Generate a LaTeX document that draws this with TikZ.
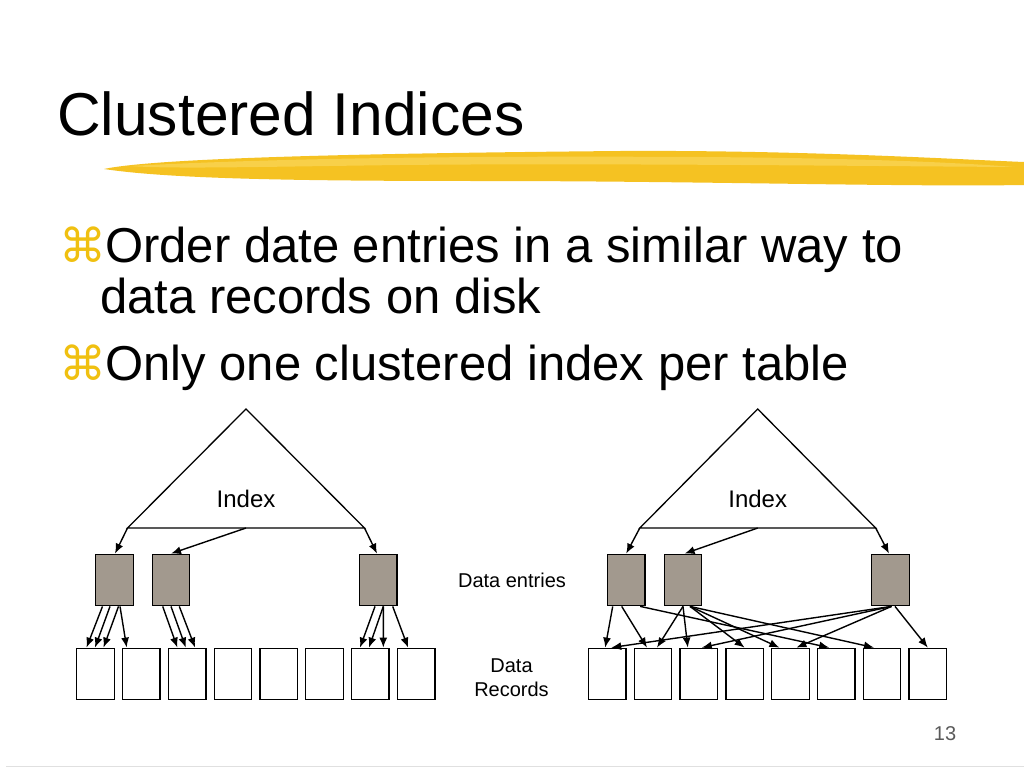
\documentclass[tikz,border=0pt]{standalone}
\usepackage{fontspec}
\setmainfont{Liberation Sans}
\newfontfamily\bulletfont{DejaVu Sans}
\usetikzlibrary{arrows.meta}
\definecolor{bulletyellow}{RGB}{240,192,16}
\definecolor{brushyellow}{RGB}{245,194,34}
\definecolor{brushlight}{RGB}{250,215,90}
\definecolor{entrygrey}{RGB}{162,153,142}
\definecolor{pagegrey}{RGB}{90,90,90}
\tikzset{
  arr/.style={line width=1.4pt, -{Latex[length=10pt,width=8pt]}},
  tri/.style={line width=1.3pt, line join=miter},
  entry/.style={draw, line width=1.3pt, fill=entrygrey, minimum width=37.5pt, minimum height=51.5pt, inner sep=0pt},
  rec/.style={draw, line width=1.3pt, fill=white, minimum width=37.5pt, minimum height=51.5pt, inner sep=0pt},
  lbl/.style={font=\fontsize{20}{24}\selectfont, align=center, inner sep=0pt},
  bul/.style={font=\fontsize{49}{58}\selectfont, anchor=base west, inner sep=0pt},
  sym/.style={font=\bulletfont\fontsize{47}{50}\selectfont, text=bulletyellow, anchor=base west, inner sep=0pt},
}
\newcommand{\lnk}[4]{\draw[arr] ([xshift=#2pt]#1.south) -- ([xshift=#4pt]#3.north);}

\begin{document}
\begin{tikzpicture}[x=1pt, y=-1pt]

\useasboundingbox[fill=white] (0,0) rectangle (1024,768);

% title and brush stroke
\node[anchor=base west, inner sep=0pt, font=\fontsize{60.5}{72}\selectfont] (title) at (57,135) {Clustered Indices};
\fill[brushyellow] (104,169) .. controls (160,157) and (400,153) .. (620,151)
  .. controls (800,150) and (950,159) .. (1024,162) -- (1024,185)
  .. controls (900,187) and (700,181) .. (480,181)
  .. controls (300,181) and (170,179) .. (104,169) -- cycle;
\fill[brushlight, opacity=0.7] (130,166) .. controls (300,157) and (500,156) .. (700,157)
  .. controls (850,158) and (950,162) .. (1015,167)
  .. controls (850,166) and (600,163) .. (400,165)
  .. controls (250,167) and (170,169) .. (130,166) -- cycle;

% bullets
\node[sym] (b1) at (59,262) {⌘};
\node[bul] (t1) at (105,262) {Order date entries in a similar way to};
\node[bul] (t2) at (100,313) {data records on disk};
\node[sym] (b2) at (59,380) {⌘};
\node[bul] (t3) at (105,380) {Only one clustered index per table};

% clustered tree
\coordinate (ltop) at (246,409);
\coordinate (lbl) at (127.5,528);
\coordinate (lbr) at (364.5,528);
\coordinate (lbm) at (246,528);
\draw[tri] (ltop) -- (lbr) -- (lbl) -- cycle;
\node[lbl, font=\fontsize{24}{28}\selectfont] (lidx) at (246,499) {Index};

\node[entry] (e1) at (114.5,580) {};
\node[entry] (e2) at (171,580) {};
\node[entry] (e3) at (378.3,580) {};
\foreach \i in {1,...,8} \node[rec] (l\i) at ({95.5+45.8*(\i-1)},674) {};

\draw[arr] (lbl) -- ([xshift=0.5pt]e1.north);
\draw[arr] (lbm) -- (e2.north);
\draw[arr] (lbr) -- ([xshift=-1.3pt]e3.north);

\lnk{e1}{-12}{l1}{-9}
\lnk{e1}{-4.5}{l1}{-0.5}
\lnk{e1}{4}{l1}{8}
\lnk{e1}{5.5}{l2}{-14.6}
\lnk{e2}{-8.3}{l3}{-9.7}
\lnk{e2}{0}{l3}{-1.3}
\lnk{e2}{8.3}{l3}{8}
\lnk{e3}{-3.3}{l7}{-10.3}
\lnk{e3}{5}{l7}{-1.3}
\lnk{e3}{5}{l7}{13}
\lnk{e3}{14.4}{l8}{-8}

% unclustered tree
\coordinate (rtop) at (757.7,409);
\coordinate (rbl) at (639.8,528);
\coordinate (rbr) at (875.7,528);
\coordinate (rbm) at (757.7,528);
\draw[tri] (rtop) -- (rbr) -- (rbl) -- cycle;
\node[lbl, font=\fontsize{24}{28}\selectfont] (ridx) at (757.7,499) {Index};

\node[entry] (e4) at (626.2,580) {};
\node[entry] (e5) at (683,580) {};
\node[entry] (e6) at (890.5,580) {};
\foreach \i in {1,...,8} \node[rec] (r\i) at ({607.2+45.8*(\i-1)},674) {};

\draw[arr] (rbl) -- (e4.north);
\draw[arr] (rbm) -- ([xshift=1.6pt]e5.north);
\draw[arr] (rbr) -- ([xshift=-1.5pt]e6.north);

\lnk{e4}{-13.5}{r1}{-2}
\lnk{e4}{-4.5}{r2}{-6}
\lnk{e4}{14}{r6}{-7}
\lnk{e5}{0}{r2}{4}
\lnk{e5}{0}{r3}{-11}
\lnk{e5}{7}{r4}{0}
\lnk{e5}{7}{r5}{-11}
\lnk{e5}{7}{r7}{-8}
\lnk{e6}{1}{r1}{4}
\lnk{e6}{1}{r3}{3}
\lnk{e6}{1}{r5}{6}
\lnk{e6}{4.5}{r8}{0}

% labels between the trees
\node[lbl] (dent) at (512,580) {Data entries};
\node[lbl] (drec) at (511.5,678) {Data\\Records};

% footer
\node[anchor=base, inner sep=0pt, text=pagegrey, font=\fontsize{20}{24}\selectfont] (pg) at (945,740) {13};
\draw[line width=1.5pt, black!12] (6,766.5) -- (1024,766.5);

\end{tikzpicture}
\end{document}
